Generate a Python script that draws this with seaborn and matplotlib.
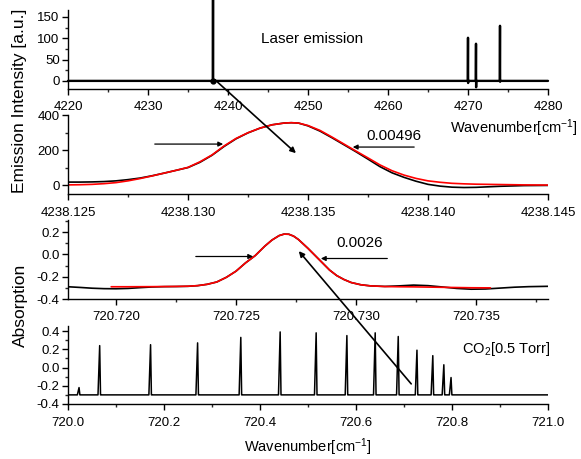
import matplotlib
matplotlib.use("Agg")
import numpy as np
import pandas as pd
import matplotlib.pyplot as plt
import seaborn as sns
from matplotlib.ticker import MultipleLocator, FormatStrFormatter

# ---------------- data ----------------
# Panel 1: laser emission (spikes on a flat zero baseline)
laser_range = [4220.0, 4280.0]
laser_x = [4238.13, 4270.0, 4271.0, 4274.0]
laser_top = [356.0, 101.0, 87.0, 129.0]
laser_bottom = [-3.0, -5.0, -15.0, -2.0]

# Panel 2: zoom of the emission line (measured black, fit red)
em_x = [4238.1250, 4238.1255, 4238.1260, 4238.1265, 4238.1270, 4238.1275,
        4238.1280, 4238.1285, 4238.1290, 4238.1295, 4238.1300, 4238.1305,
        4238.1310, 4238.1315, 4238.1320, 4238.1325, 4238.1330, 4238.1335,
        4238.1340, 4238.1343, 4238.1346, 4238.1350, 4238.1355, 4238.1360,
        4238.1365, 4238.1370, 4238.1375, 4238.1380, 4238.1385, 4238.1390,
        4238.1395, 4238.1400, 4238.1405, 4238.1410, 4238.1415, 4238.1420,
        4238.1425, 4238.1430, 4238.1435, 4238.1440, 4238.1450]
em_black = [17, 17, 18, 20, 24, 31, 40, 53, 68, 84, 100, 130,
            170, 220, 264, 298, 325, 344, 354, 356, 354, 338, 308, 270,
            230, 190, 148, 105, 70, 44, 22, 4, -6, -12, -14, -13,
            -10, -7, -5, -3, -2]
em_red = [1, 2, 4, 8, 14, 24, 37, 52, 68, 84, 101, 133,
          172, 223, 266, 299, 325, 344, 354, 356, 354, 340, 312, 274,
          234, 194, 155, 115, 82, 57, 38, 24, 16, 10, 7, 5,
          4, 3, 2, 1, 0]

# Panel 3: zoom of one absorption line (measured black, fit red)
ab_x_black = [720.7180, 720.7185, 720.7190, 720.7195, 720.7200, 720.7205,
              720.7210, 720.7215, 720.7220, 720.7225, 720.7230, 720.7234,
              720.7238, 720.7242, 720.7246, 720.7250, 720.7254, 720.7258,
              720.7262, 720.7265, 720.7268, 720.7270, 720.7272, 720.7274,
              720.7276, 720.7278, 720.7280, 720.7283, 720.7286, 720.7289,
              720.7292, 720.7295, 720.7298, 720.7302, 720.7306, 720.7312,
              720.7318, 720.7324, 720.7330, 720.7336, 720.7342, 720.7348,
              720.7354, 720.7360, 720.7366, 720.7372, 720.7380]
ab_black = [-0.290, -0.296, -0.303, -0.307, -0.308, -0.305,
            -0.298, -0.292, -0.289, -0.288, -0.286, -0.280,
            -0.268, -0.247, -0.205, -0.150, -0.075, -0.010,
            0.075, 0.130, 0.170, 0.183, 0.182, 0.165,
            0.135, 0.095, 0.055, -0.010, -0.075, -0.140,
            -0.190, -0.225, -0.252, -0.272, -0.282, -0.287,
            -0.282, -0.275, -0.280, -0.292, -0.305, -0.312,
            -0.310, -0.302, -0.294, -0.289, -0.286]
ab_x_red = [720.7198, 720.7205, 720.7215, 720.7225, 720.7230, 720.7234,
            720.7238, 720.7242, 720.7246, 720.7250, 720.7254, 720.7258,
            720.7262, 720.7265, 720.7268, 720.7270, 720.7272, 720.7274,
            720.7276, 720.7278, 720.7280, 720.7283, 720.7286, 720.7289,
            720.7292, 720.7295, 720.7298, 720.7302, 720.7306, 720.7312,
            720.7318, 720.7324, 720.7330, 720.7336, 720.7342, 720.7348,
            720.7356]
ab_red = [-0.290, -0.290, -0.289, -0.287, -0.285, -0.280,
          -0.268, -0.247, -0.205, -0.150, -0.075, -0.010,
          0.075, 0.130, 0.170, 0.183, 0.182, 0.165,
          0.135, 0.095, 0.055, -0.010, -0.075, -0.140,
          -0.190, -0.225, -0.252, -0.272, -0.282, -0.288,
          -0.290, -0.291, -0.293, -0.295, -0.297, -0.299,
          -0.300]

# Panel 4: CO2 absorption spectrum (peak positions / heights on baseline)
co2_range = [720.0, 721.0]
co2_base = -0.30
co2_peak_x = [720.023, 720.066, 720.172, 720.270, 720.360, 720.442, 720.517,
              720.581, 720.640, 720.688, 720.727, 720.760, 720.783, 720.798]
co2_peak_y = [-0.22, 0.24, 0.25, 0.27, 0.33, 0.39, 0.38,
              0.35, 0.38, 0.34, 0.19, 0.13, 0.03, -0.11]

# ---------------- style ----------------
sns.set_style("ticks")
plt.rcParams['font.family'] = ['Liberation Sans', 'DejaVu Sans']
plt.rcParams['axes.unicode_minus'] = False
plt.rcParams['mathtext.fontset'] = 'custom'
plt.rcParams['mathtext.rm'] = 'Liberation Sans'
plt.rcParams['mathtext.it'] = 'Liberation Sans'

W, H = 581, 459
fig = plt.figure(figsize=(W / 100, H / 100), dpi=100)


def ax_at(x0, ytop, x1, ybot):
    return fig.add_axes([x0 / W, 1 - ybot / H, (x1 - x0) / W, (ybot - ytop) / H])


def style(ax):
    sns.despine(ax=ax)
    for s in ("left", "bottom"):
        ax.spines[s].set_linewidth(1.0)
        ax.spines[s].set_color("black")
    ax.tick_params(which="major", length=4, width=1, labelsize=9.5, pad=2,
                   colors="black", direction="out")
    ax.tick_params(which="minor", length=2.5, width=1, direction="out")
    ax.set_xlabel("")
    ax.set_ylabel("")
    ax.set_facecolor("white")


def stick_frame(xs, tops, bottoms, lo, hi, base, hw):
    px, py = [lo], [base]
    for c, t, b in zip(xs, tops, bottoms):
        px += [c - hw, c, c + hw * 0.5, c + hw]
        py += [base, t, b, base]
    px.append(hi)
    py.append(base)
    return pd.DataFrame({"x": px, "y": py})


# ---- Panel 1 ----
ax1 = ax_at(68, 10, 548, 89)
d1 = stick_frame(laser_x, laser_top, laser_bottom, laser_range[0], laser_range[1], 0.0, 0.03)
sns.lineplot(data=d1, x="x", y="y", ax=ax1, color="black", lw=1.7,
             estimator=None, sort=False)
for ln in ax1.lines:
    ln.set_clip_on(False)
ax1.plot([laser_x[0]], [0], "o", color="black", ms=3.5, clip_on=False)
ax1.set_xlim(*laser_range)
ax1.set_ylim(-19, 166)
ax1.xaxis.set_major_locator(MultipleLocator(10))
ax1.xaxis.set_minor_locator(MultipleLocator(5))
ax1.yaxis.set_major_locator(MultipleLocator(50))
ax1.yaxis.set_minor_locator(MultipleLocator(25))
ax1.xaxis.set_major_formatter(FormatStrFormatter("%d"))
style(ax1)
ax1.tick_params(axis="x", pad=5)

# ---- Panel 2 ----
ax2 = ax_at(68, 115, 548, 194)
d2 = pd.DataFrame({"x": em_x * 2, "y": em_black + em_red,
                   "kind": ["meas"] * len(em_x) + ["fit"] * len(em_x)})
sns.lineplot(data=d2, x="x", y="y", hue="kind", palette={"meas": "black", "fit": "#ff0000"},
             ax=ax2, lw=1.2, estimator=None, legend=False)
ax2.set_xlim(4238.125, 4238.145)
ax2.set_ylim(-51, 400)
ax2.xaxis.set_major_locator(MultipleLocator(0.005))
ax2.xaxis.set_minor_locator(MultipleLocator(0.0025))
ax2.yaxis.set_major_locator(MultipleLocator(200))
ax2.yaxis.set_minor_locator(MultipleLocator(100))
ax2.xaxis.set_major_formatter(FormatStrFormatter("%.3f"))
ax2.yaxis.set_major_formatter(FormatStrFormatter("%d"))
style(ax2)
ax2.tick_params(axis="x", pad=5)
ax2.annotate("", xy=(4238.13158, 234), xytext=(4238.1285, 234),
             arrowprops=dict(arrowstyle="-|>", color="black", lw=0.9, mutation_scale=7))
ax2.annotate("", xy=(4238.13675, 217), xytext=(4238.13954, 217),
             arrowprops=dict(arrowstyle="-|>", color="black", lw=0.9, mutation_scale=7))

# ---- Panel 3 ----
ax3 = ax_at(68, 220, 548, 299)
d3 = pd.DataFrame({"x": ab_x_black + ab_x_red, "y": ab_black + ab_red,
                   "kind": ["meas"] * len(ab_x_black) + ["fit"] * len(ab_x_red)})
sns.lineplot(data=d3, x="x", y="y", hue="kind", palette={"meas": "black", "fit": "#ff0000"},
             ax=ax3, lw=1.2, estimator=None, legend=False)
ax3.set_xlim(720.718, 720.738)
ax3.set_ylim(-0.4, 0.31)
ax3.set_xticks([720.720, 720.725, 720.730, 720.735])
ax3.xaxis.set_minor_locator(MultipleLocator(0.0025))
ax3.yaxis.set_major_locator(MultipleLocator(0.2))
ax3.yaxis.set_minor_locator(MultipleLocator(0.1))
ax3.xaxis.set_major_formatter(FormatStrFormatter("%.3f"))
ax3.yaxis.set_major_formatter(FormatStrFormatter("%.1f"))
style(ax3)
ax3.tick_params(axis="x", pad=5)
ax3.annotate("", xy=(720.72583, -0.018), xytext=(720.72321, -0.018),
             arrowprops=dict(arrowstyle="-|>", color="black", lw=0.9, mutation_scale=7))
ax3.annotate("", xy=(720.72842, -0.036), xytext=(720.73142, -0.036),
             arrowprops=dict(arrowstyle="-|>", color="black", lw=0.9, mutation_scale=7))

# ---- Panel 4 ----
ax4 = ax_at(68, 326, 548, 404)
d4 = stick_frame(co2_peak_x, co2_peak_y, [co2_base] * len(co2_peak_x),
                 co2_range[0], co2_range[1], co2_base, 0.0035)
sns.lineplot(data=d4, x="x", y="y", ax=ax4, color="black", lw=1.1,
             estimator=None, sort=False)
ax4.set_xlim(*co2_range)
ax4.set_ylim(-0.4, 0.455)
ax4.xaxis.set_major_locator(MultipleLocator(0.2))
ax4.xaxis.set_minor_locator(MultipleLocator(0.1))
ax4.yaxis.set_major_locator(MultipleLocator(0.2))
ax4.yaxis.set_minor_locator(MultipleLocator(0.1))
ax4.xaxis.set_major_formatter(FormatStrFormatter("%.1f"))
ax4.yaxis.set_major_formatter(FormatStrFormatter("%.1f"))
style(ax4)
ax4.tick_params(axis="x", pad=5)

# ---- texts ----
def ftext(x, y, s, **kw):
    fig.text(x / W, 1 - y / H, s, ha="center", va="center", color="black", **kw)

ftext(312, 39, "Laser emission", fontsize=11)
ftext(394, 136, "0.00496", fontsize=11)
ftext(360, 243, "0.0026", fontsize=11)
ftext(506, 349, r"CO$_2$[0.5 Torr]", fontsize=10.5)
ftext(514, 128, r"Wavenumber[cm$^{-1}$]", fontsize=10.5)
ftext(308, 447, r"Wavenumber[cm$^{-1}$]", fontsize=10.5)
ftext(20, 101, "Emission Intensity [a.u.]", fontsize=12.5, rotation=90)
ftext(20, 305, "Absorption", fontsize=12.5, rotation=90)

# ---- big diagonal arrows across panels ----
fig.patches.append(matplotlib.patches.FancyArrowPatch(
    (213, H - 78), (298, H - 155), transform=None, arrowstyle="-|>",
    mutation_scale=8, lw=1.2, color="black"))
fig.patches.append(matplotlib.patches.FancyArrowPatch(
    (413, H - 386), (297, H - 249), transform=None, arrowstyle="-|>",
    mutation_scale=8, lw=1.2, color="black"))

fig.savefig("out.png", dpi=100, facecolor="white")
